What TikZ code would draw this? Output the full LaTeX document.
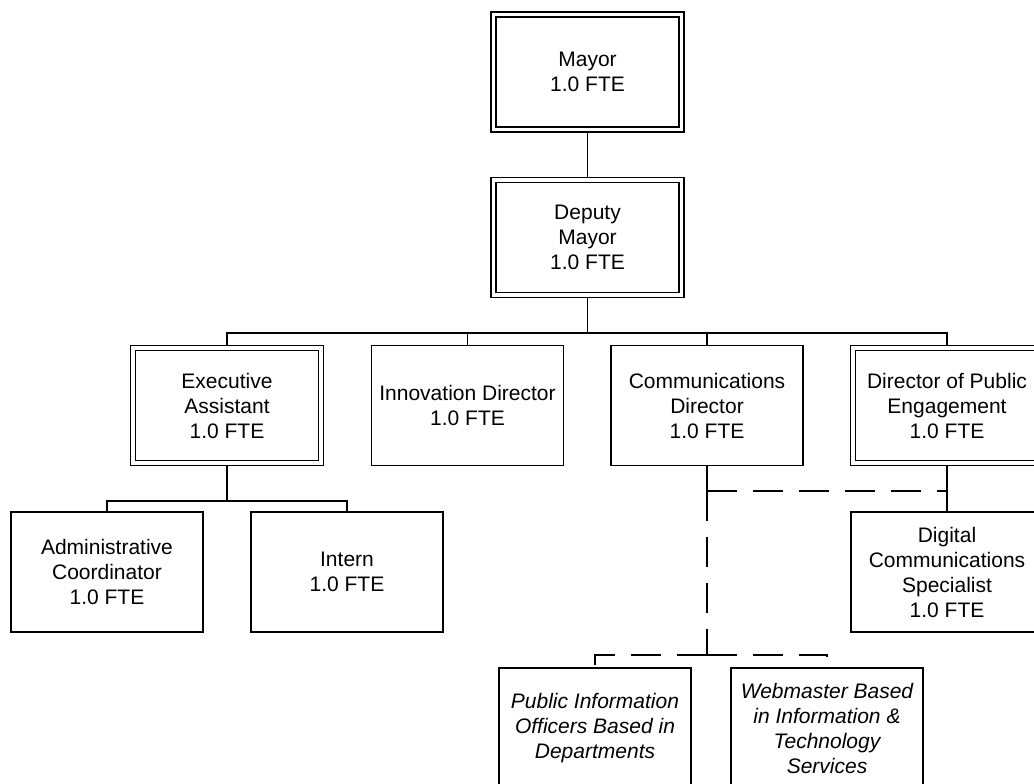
\documentclass[tikz,border=0pt]{standalone}
\usepackage{fontspec}
\setmainfont{Liberation Sans}
\usetikzlibrary{backgrounds}

\tikzset{
  orgbox/.style={draw, fill=white, line width=1.1pt, align=center, inner sep=0pt,
    minimum width=144pt, minimum height=90pt,
    font=\fontsize{15.75pt}{18.75pt}\selectfont},
  dblbox/.style={orgbox, double=white, double distance=2.65pt,
    minimum width=141pt, minimum height=86.25pt},
  solidlink/.style={line width=1.1pt},
  dashlink/.style={line width=1.1pt, dash pattern=on 22.5pt off 12pt},
  it/.style={font=\fontsize{15.75pt}{18.75pt}\selectfont\itshape}
}

\begin{document}
\begin{tikzpicture}[x=0.75pt, y=-0.75pt]
  \useasboundingbox (0,0) rectangle (1034,783);

  % top of the chart
  \node[dblbox] (mayor)  at (587.5,72)    {Mayor\\1.0 FTE};
  \node[dblbox] (deputy) at (587.5,237.5) {Deputy\\Mayor\\1.0 FTE};

  % direct reports of the deputy mayor
  \node[dblbox] (exec)  at (227,405.5)   {Executive\\Assistant\\1.0 FTE};
  \node[orgbox] (innov) at (467.5,405.5) {Innovation Director\\1.0 FTE};
  \node[orgbox] (comm)  at (707,405.5)   {Communications\\Director\\1.0 FTE};
  \node[dblbox] (dpe)   at (947,405.5)   {Director of Public\\Engagement\\1.0 FTE};

  % third level
  \node[orgbox] (admin)   at (107,572) {Administrative\\Coordinator\\1.0 FTE};
  \node[orgbox] (intern)  at (347,572) {Intern\\1.0 FTE};
  \node[orgbox] (digital) at (947,572) {Digital\\Communications\\Specialist\\1.0 FTE};

  % staff based in other departments
  \node[orgbox, it] (pio) at (595,728) {Public Information\\Officers Based in\\Departments};
  \node[orgbox, it] (web) at (827,728) {Webmaster Based\\in Information \&\\Technology\\Services};

  \coordinate (dmbus)   at (587.5,333);
  \coordinate (eabus)   at (227,501);
  \coordinate (cdjoin)  at (707,491);
  \coordinate (dpejoin) at (947,491);
  \coordinate (deptbus) at (707,655);

  \begin{pgfonlayer}{background}
    \draw[solidlink] (mayor) -- (deputy);
    \draw[solidlink] (deputy) -- (dmbus);
    \draw[solidlink] (dmbus) -| (exec.north);
    \draw[solidlink] (dmbus) -| (innov.north);
    \draw[solidlink] (dmbus) -| (comm.north);
    \draw[solidlink] (dmbus) -| (dpe.north);

    \draw[solidlink] (exec) -- (eabus);
    \draw[solidlink] (eabus) -| (admin.north);
    \draw[solidlink] (eabus) -| (intern.north);

    \draw[solidlink] (dpe) -- (digital);
    \draw[solidlink] (comm) -- (cdjoin);
    \draw[dashlink] (cdjoin) -- (dpejoin);
    \draw[dashlink] (cdjoin) -- (deptbus);
    \draw[dashlink] (deptbus) -| (pio.north);
    \draw[dashlink] (deptbus) -| (web.north);
  \end{pgfonlayer}
\end{tikzpicture}
\end{document}
